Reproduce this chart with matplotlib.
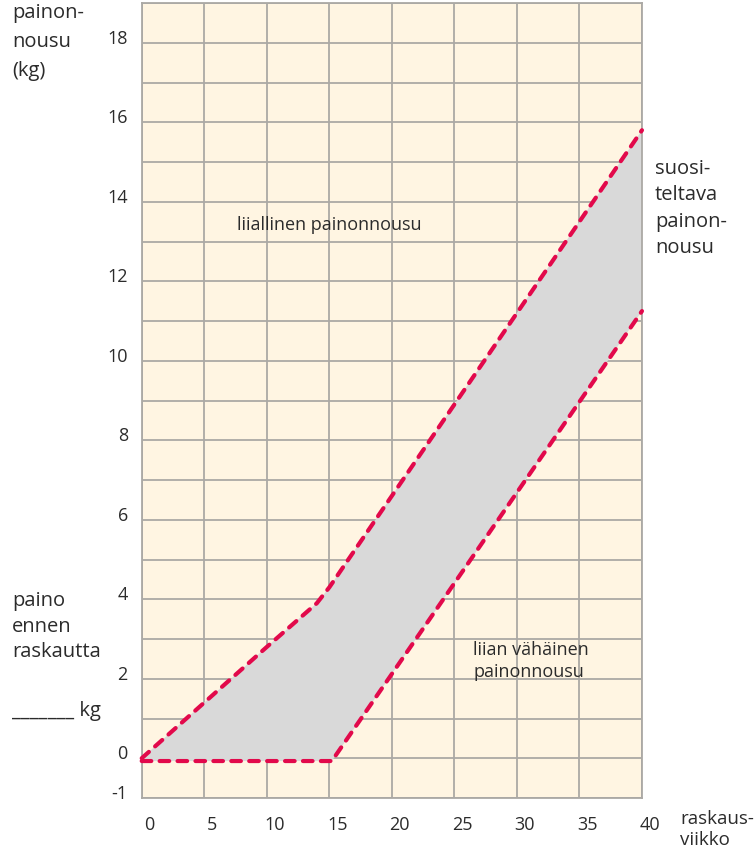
import matplotlib
matplotlib.use("Agg")
import matplotlib.pyplot as plt
import matplotlib.transforms as mtransforms

plt.rcParams['font.family'] = ['Open Sans', 'DejaVu Sans']

# 数据
viikot_yla = [0, 5, 10, 14, 15, 40]
paino_yla = [0, 1.4, 2.8, 3.9, 4.3, 15.8]
viikot_ala = [0, 15.2, 40]
paino_ala = [-0.07, -0.07, 11.25]
x_ticks = [0, 5, 10, 15, 20, 25, 30, 35, 40]
y_grid = list(range(-1, 20))
y_labels = [str(v) if (v % 2 == 0 or v == -1) and v < 19 else "" for v in y_grid]

punainen = "#E2094B"
harmaa = "#D9D9D9"
tausta = "#FFF5E2"
ruudukko = "#ABA9A5"
teksti = "#2B2B2B"

fig = plt.figure(figsize=(7.55, 8.54), dpi=100)
ax = fig.add_axes([0.1877, 0.0644, 0.6626, 0.9309])
ax.set_facecolor(tausta)
ax.set_xlim(0, 40)
ax.set_ylim(-1, 19)

# täyttö ylä- ja alarajan väliin
poly_x = viikot_yla + viikot_ala[::-1]
poly_y = paino_yla + paino_ala[::-1]
ax.fill(poly_x, poly_y, color=harmaa, zorder=2, lw=0)

viiva = dict(color=punainen, lw=3.0, ls=(0, (2.3, 2.0)), zorder=3,
             dash_capstyle='round', solid_joinstyle='round', clip_on=False)
ax.plot(viikot_yla, paino_yla, **viiva)
ax.plot(viikot_ala, paino_ala, **viiva)

ax.set_xticks(x_ticks)
ax.set_xticklabels([str(v) for v in x_ticks])
ax.set_yticks(y_grid)
ax.set_yticklabels(y_labels)
ax.tick_params(length=0, labelsize=13, colors=teksti)
ax.tick_params(axis='x', pad=12)
ax.tick_params(axis='y', pad=10)
ax.grid(True, color=ruudukko, lw=1.3, zorder=1)
ax.set_axisbelow(True)
for s in ax.spines.values():
    s.set_color(ruudukko)
    s.set_linewidth(1.3)

for lab in ax.get_xticklabels():
    lab.set_transform(lab.get_transform() + mtransforms.ScaledTranslation(8 / 100, 0, fig.dpi_scale_trans))
for lab in ax.get_yticklabels():
    lab.set_transform(lab.get_transform() + mtransforms.ScaledTranslation(0, 7 / 100, fig.dpi_scale_trans))

fs = 14.5
fig.text(12 / 755, 1 - 3 / 854, "painon-\nnousu\n(kg)", ha='left', va='top',
         fontsize=fs, color=teksti, linespacing=1.6)
fig.text(12 / 755, 1 - 591 / 854, "paino\nennen\nraskautta", ha='left', va='top',
         fontsize=fs, color=teksti, linespacing=1.38)
fig.text(12 / 755, 1 - 716 / 854, "_______ kg", ha='left', va='baseline',
         fontsize=fs, color=teksti)
fig.text(655 / 755, 1 - 159 / 854, "suosi-\nteltava\npainon-\nnousu", ha='left', va='top',
         fontsize=fs, color=teksti, linespacing=1.43)
fig.text(680 / 755, 1 - 810 / 854, "raskaus-\nviikko", ha='left', va='top',
         fontsize=13.5, color=teksti, linespacing=1.25)

ax.text(7.6, 13.45, "liiallinen painonnousu", ha='left', va='center',
        fontsize=13, color=teksti, zorder=4)
ax.text(26.5, 2.48, "liian vähäinen\npainonnousu", ha='left', va='center',
        fontsize=13, color=teksti, zorder=4, linespacing=1.3)

fig.savefig("out.png", dpi=100)
